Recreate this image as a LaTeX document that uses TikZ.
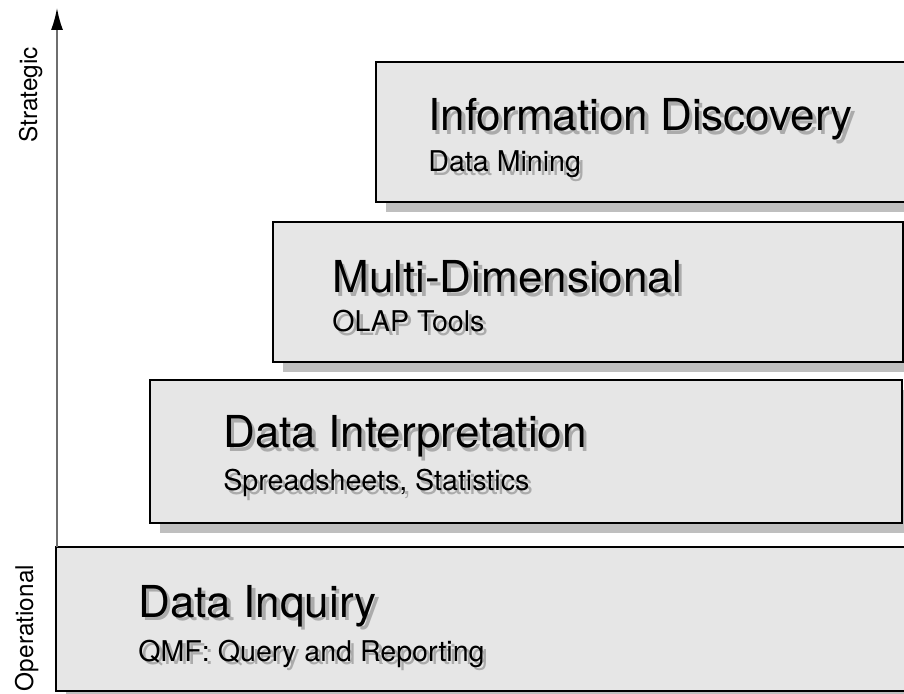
\documentclass[tikz,border=0pt]{standalone}
\usepackage{fontspec}
\setmainfont{TeX Gyre Heros}
\usetikzlibrary{arrows.meta}
\definecolor{tierfill}{HTML}{E6E6E6}
\definecolor{tiershade}{HTML}{BFBFBF}
\definecolor{textshade}{HTML}{ABABAB}
\definecolor{axisgray}{HTML}{6E6E6E}
\tikzset{
	tier/.style={draw=black, line width=0.6pt, fill=tierfill},
	tiershadow/.style={draw=none, fill=tiershade},
	title/.style={anchor=base west, inner sep=0pt, font=\fontsize{22}{26}\selectfont},
	subtitle/.style={anchor=base west, inner sep=0pt, font=\fontsize{14.3}{17}\selectfont},
	shade/.style={text=textshade},
	axislabel/.style={rotate=90, inner sep=0pt, font=\fontsize{12.2}{14}\selectfont}
}
\begin{document}
\begin{tikzpicture}[x=0.5pt, y=-0.5pt]
	\useasboundingbox (0,0) rectangle (904,694);
	\clip (0,0) rectangle (904,694);
	% tiers, top to bottom
	\fill[tiershadow] (386,72) rectangle (925,212);
	\draw[tier] (376,62) rectangle (915,202);
	\fill[tiershadow] (283,232) rectangle (913,372);
	\draw[tier] (273,222) rectangle (903,362);
	\fill[tiershadow] (160,390) rectangle (912,533);
	\draw[tier] (150,380) rectangle (902,523);
	\fill[tiershadow] (66,557) rectangle (925,701);
	\draw[tier] (56,547) rectangle (915,691);
	% tier texts
	\node[title, shade] at (431.5,134.5) {Information Discovery};
	\node[title] (discovery) at (428,131) {Information Discovery};
	\node[subtitle, shade] at (431.5,175.5) {Data Mining};
	\node[subtitle] (mining) at (428,172) {Data Mining};
	\node[title, shade] at (335.5,296.5) {Multi-Dimensional};
	\node[title] (multidim) at (332,293) {Multi-Dimensional};
	\node[subtitle, shade] at (335.5,335.5) {OLAP Tools};
	\node[subtitle] (olap) at (332,332) {OLAP Tools};
	\node[title, shade] at (226.5,451.5) {Data Interpretation};
	\node[title] (interp) at (223,448) {Data Interpretation};
	\node[subtitle, shade] at (226.5,494.5) {Spreadsheets, Statistics};
	\node[subtitle] (sheets) at (223,491) {Spreadsheets, Statistics};
	\node[title, shade] at (141.5,620.5) {Data Inquiry};
	\node[title] (inquiry) at (138,617) {Data Inquiry};
	\node[subtitle, shade] at (141.5,664.5) {QMF: Query and Reporting};
	\node[subtitle] (qmf) at (138,661) {QMF: Query and Reporting};
	% axis
	\coordinate (axisbot) at (57,547);
	\coordinate (axistop) at (57,8);
	\draw[axisgray, line width=0.8pt, -{Latex[black, length=11pt, width=6pt]}] (axisbot) -- (axistop);
	\node[axislabel, anchor=base] (strategic) at (37,95) {Strategic};
	\node[axislabel, anchor=base] (operational) at (33,628) {Operational};
\end{tikzpicture}
\end{document}
